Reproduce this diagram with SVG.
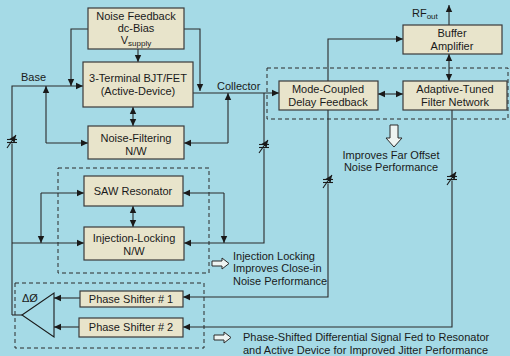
<svg xmlns="http://www.w3.org/2000/svg" width="510" height="356" viewBox="0 0 510 356">
<style>
.bx{fill:#e8e4cb;stroke:#3a3a3a;stroke-width:1.2}
.t{font-family:"Liberation Sans",Arial,sans-serif;font-size:11px;fill:#1a1a1a;text-anchor:middle}
.tl{font-family:"Liberation Sans",Arial,sans-serif;font-size:11px;fill:#1a1a1a}
.ln{fill:none;stroke:#2a2a2a;stroke-width:1.1}
.ds{fill:none;stroke:#2a2a2a;stroke-width:1;stroke-dasharray:4,3}
.ho{fill:#eef4f2;stroke:#2a2a2a;stroke-width:1}
</style>
<defs>
<marker id="a" markerUnits="userSpaceOnUse" markerWidth="8" markerHeight="8" refX="7" refY="4" orient="auto-start-reverse">
<path d="M0,0.8 L7,4 L0,7.2 Z" fill="#1a1a1a"/>
</marker>
</defs>
<rect width="510" height="356" fill="#a5dae6"/>

<g id="dashed-groups">
<rect class="ds" x="267" y="68" width="241" height="51"/>
<rect class="ds" x="58" y="168" width="151" height="105"/>
<rect class="ds" x="15" y="283" width="189" height="65"/>
</g>

<g id="connectors">
<polyline class="ln" points="12,315 12,86 83,86" marker-end="url(#a)"/>
<line class="ln" x1="12" y1="315" x2="22" y2="315"/>
<line class="ln" x1="12" y1="243" x2="84" y2="243" marker-end="url(#a)"/>
<polyline class="ln" points="88,29 71,29 71,86" marker-end="url(#a)"/>
<polyline class="ln" points="184,29 200,29 200,91" marker-end="url(#a)"/>
<line class="ln" x1="138" y1="49" x2="138" y2="62" marker-end="url(#a)"/>
<line class="ln" x1="46" y1="143" x2="46" y2="86" marker-end="url(#a)"/>
<polyline class="ln" points="46,143 88,143" marker-end="url(#a)"/>
<line class="ln" x1="193" y1="93" x2="279" y2="93" marker-end="url(#a)"/>
<line class="ln" x1="228" y1="143" x2="228" y2="93" marker-end="url(#a)"/>
<line class="ln" x1="228" y1="143" x2="184" y2="143" marker-end="url(#a)"/>
<line class="ln" x1="133" y1="107" x2="133" y2="126" marker-start="url(#a)" marker-end="url(#a)"/>
<polyline class="ln" points="264,93 264,243 184,243" marker-end="url(#a)"/>
<line class="ln" x1="133" y1="206" x2="133" y2="227" marker-start="url(#a)" marker-end="url(#a)"/>
<line class="ln" x1="41" y1="193" x2="84" y2="193" marker-end="url(#a)"/>
<line class="ln" x1="41" y1="193" x2="41" y2="243" marker-end="url(#a)"/>
<line class="ln" x1="224" y1="193" x2="183" y2="193" marker-end="url(#a)"/>
<line class="ln" x1="224" y1="193" x2="224" y2="243" marker-end="url(#a)"/>
<polyline class="ln" points="328,81 328,39 403,39" marker-end="url(#a)"/>
<line class="ln" x1="378" y1="94" x2="403" y2="94" marker-start="url(#a)" marker-end="url(#a)"/>
<line class="ln" x1="449" y1="54" x2="449" y2="81" marker-start="url(#a)" marker-end="url(#a)"/>
<line class="ln" x1="449" y1="25" x2="449" y2="5" marker-end="url(#a)"/>
<polyline class="ln" points="328,110 328,297 183,297" marker-end="url(#a)"/>
<polyline class="ln" points="452,110 452,327 183,327" marker-end="url(#a)"/>
<line class="ln" x1="80" y1="298" x2="54" y2="298" marker-end="url(#a)"/>
<line class="ln" x1="79" y1="327" x2="54" y2="327" marker-end="url(#a)"/>
</g>

<g id="capacitors" stroke="#1a1a1a" stroke-width="1.1" fill="none">
<g transform="translate(12,141)"><rect x="-6" y="-2.5" width="12" height="5" fill="#a5dae6" stroke="none"/><line x1="-5" y1="-1.5" x2="5" y2="-1.5"/><line x1="-5" y1="1.5" x2="5" y2="1.5"/><line x1="-5" y1="7" x2="4" y2="-6" marker-end="url(#a)"/></g>
<g transform="translate(264,146)"><rect x="-6" y="-2.5" width="12" height="5" fill="#a5dae6" stroke="none"/><line x1="-5" y1="-1.5" x2="5" y2="-1.5"/><line x1="-5" y1="1.5" x2="5" y2="1.5"/><line x1="-5" y1="7" x2="4" y2="-6" marker-end="url(#a)"/></g>
<g transform="translate(328,181)"><rect x="-6" y="-2.5" width="12" height="5" fill="#a5dae6" stroke="none"/><line x1="-5" y1="-1.5" x2="5" y2="-1.5"/><line x1="-5" y1="1.5" x2="5" y2="1.5"/><line x1="-5" y1="7" x2="4" y2="-6" marker-end="url(#a)"/></g>
<g transform="translate(452,178)"><rect x="-6" y="-2.5" width="12" height="5" fill="#a5dae6" stroke="none"/><line x1="-5" y1="-1.5" x2="5" y2="-1.5"/><line x1="-5" y1="1.5" x2="5" y2="1.5"/><line x1="-5" y1="7" x2="4" y2="-6" marker-end="url(#a)"/></g>
</g>

<g id="noise-feedback"><rect class="bx" x="88" y="8" width="96" height="41"/>
<text class="t" x="136" y="20">Noise Feedback</text>
<text class="t" x="136" y="32">dc-Bias</text>
<text class="t" x="136" y="44">V<tspan font-size="8" dy="2">supply</tspan></text></g>

<g id="bjt"><rect class="bx" x="83" y="62" width="110" height="45"/>
<text class="t" x="138" y="82">3-Terminal BJT/FET</text>
<text class="t" x="138" y="95">(Active-Device)</text></g>

<g id="noise-filtering"><rect class="bx" x="88" y="126" width="96" height="33"/>
<text class="t" x="136" y="142">Noise-Filtering</text>
<text class="t" x="136" y="155">N/W</text></g>

<g id="saw"><rect class="bx" x="84" y="176" width="99" height="30"/>
<text class="t" x="133" y="195">SAW Resonator</text></g>

<g id="injection"><rect class="bx" x="84" y="227" width="100" height="33"/>
<text class="t" x="134" y="242">Injection-Locking</text>
<text class="t" x="134" y="255">N/W</text></g>

<g id="buffer"><rect class="bx" x="403" y="25" width="99" height="29"/>
<text class="t" x="452" y="37">Buffer</text>
<text class="t" x="452" y="50">Amplifier</text></g>

<g id="mode-coupled"><rect class="bx" x="279" y="81" width="99" height="29"/>
<text class="t" x="328" y="93">Mode-Coupled</text>
<text class="t" x="328" y="106">Delay Feedback</text></g>

<g id="adaptive"><rect class="bx" x="403" y="81" width="104" height="29"/>
<text class="t" x="455" y="93">Adaptive-Tuned</text>
<text class="t" x="455" y="106">Filter Network</text></g>

<g id="phase-shifter-1"><rect class="bx" x="80" y="291" width="103" height="16"/>
<text class="t" x="131" y="303">Phase Shifter # 1</text></g>

<g id="phase-shifter-2"><rect class="bx" x="79" y="318" width="104" height="19"/>
<text class="t" x="131" y="331">Phase Shifter # 2</text></g>

<g id="diff-amp"><polygon points="22,315 54,293 54,337" fill="none" stroke="#1a1a1a" stroke-width="1.1"/>
<text class="tl" x="22" y="302">ΔØ</text></g>

<g id="labels">
<text class="tl" x="21" y="81">Base</text>
<text class="tl" x="217" y="90">Collector</text>
<text class="tl" x="412" y="17">RF<tspan font-size="8" dy="2">out</tspan></text>
<polygon class="ho" points="390,125 398,125 398,138 402,138 394,147 386,138 390,138"/>
<text class="t" x="391" y="159">Improves Far Offset</text>
<text class="t" x="391" y="171">Noise Performance</text>
<polygon class="ho" points="212,261 222,261 222,258 229,263.5 222,269 222,266 212,266"/>
<text class="tl" x="233" y="260">Injection Locking</text>
<text class="tl" x="233" y="272">Improves Close-in</text>
<text class="tl" x="233" y="285">Noise Performance</text>
<polygon class="ho" points="214,335 224,335 224,332 231,337.5 224,343 224,340 214,340"/>
<text class="tl" x="243" y="341" font-size="10.7">Phase-Shifted Differential Signal Fed to Resonator</text>
<text class="tl" x="243" y="354" font-size="10.7">and Active Device for Improved Jitter Performance</text>
</g>
</svg>
